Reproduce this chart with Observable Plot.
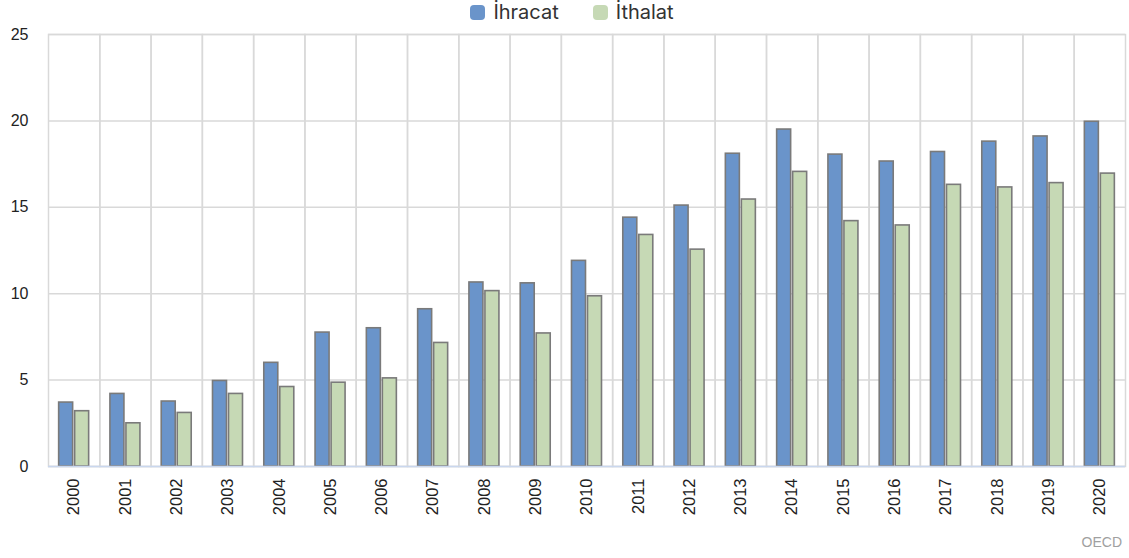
<!DOCTYPE html>
<html>
<head>
<meta charset="utf-8">
<script src="https://cdn.jsdelivr.net/npm/d3@7"></script>
<script src="https://cdn.jsdelivr.net/npm/@observablehq/plot@0.6"></script>
<style>
  body { margin: 0; background: #fff; width: 1129px; height: 558px; overflow: hidden; }
  #legend { height: 24px; display: flex; justify-content: center; align-items: center; gap: 34px;
    font-family: Inter, Roboto, sans-serif; font-size: 20px; color: #333; padding-left: 15px; box-sizing: border-box; }
  #legend .item { display: flex; align-items: center; gap: 8px; }
  #legend .sw { width: 15px; height: 15px; border-radius: 4px; display: inline-block; }
  #caption { text-align: right; padding-right: 7px; font-family: "Liberation Sans", Arial, sans-serif;
    font-size: 14px; color: #a0a0a0; line-height: 16px; }
</style>
</head>
<body>
<div id="legend"></div>
<div id="chart"></div>
<div id="caption">OECD</div>
<script>
const years = ["2000","2001","2002","2003","2004","2005","2006","2007","2008","2009","2010",
  "2011","2012","2013","2014","2015","2016","2017","2018","2019","2020"];
const series = ["İhracat", "İthalat"];
const ihracat = [3.7, 4.2, 3.76, 4.95, 6.0, 7.75, 8.0, 9.1, 10.65, 10.6, 11.9,
  14.4, 15.1, 18.1, 19.5, 18.05, 17.65, 18.2, 18.8, 19.1, 19.95];
const ithalat = [3.2, 2.5, 3.1, 4.2, 4.6, 4.85, 5.1, 7.15, 10.15, 7.7, 9.85,
  13.4, 12.55, 15.45, 17.05, 14.2, 13.95, 16.3, 16.15, 16.4, 16.95];
const yTicks = [0, 5, 10, 15, 20, 25];
const colors = ["#6a94ca", "#c6d9b5"];

const data = [];
years.forEach((yr, i) => {
  data.push({year: yr, series: series[0], value: ihracat[i]});
  data.push({year: yr, series: series[1], value: ithalat[i]});
});

const legend = document.getElementById("legend");
series.forEach((s, i) => {
  const it = document.createElement("span");
  it.className = "item";
  it.innerHTML = `<span class="sw" style="background:${colors[i]}"></span><span>${s}</span>`;
  legend.appendChild(it);
});

const chart = Plot.plot({
  width: 1129,
  height: 510,
  marginLeft: 48,
  marginRight: 4,
  marginTop: 10,
  marginBottom: 68,
  style: { fontFamily: "'Liberation Sans', Arial, sans-serif", fontSize: "16px", color: "#222" },
  fx: { domain: years, padding: 0, round: false, label: null },
  x: { domain: series, axis: null, paddingInner: 0.125, paddingOuter: 0.665, round: false },
  y: { domain: [0, 25], label: null },
  color: { domain: series, range: colors },
  marks: [
    Plot.gridY(yTicks, { stroke: "#d9d9d9", strokeOpacity: 1, strokeWidth: 1.5 }),
    Plot.frame({ stroke: "#d9d9d9", strokeWidth: 1.5 }),
    Plot.barY(data, { fx: "year", x: "series", y: "value", fill: "series", stroke: "#7a7a7a", strokeWidth: 1.6 }),
    Plot.ruleY([0], { stroke: "#c9d7ee", strokeWidth: 1.5 }),
    Plot.axisY(yTicks, { tickSize: 0, tickPadding: 20, fontSize: 16, label: null }),
    Plot.axisFx({ anchor: "bottom", tickRotate: -90, tickSize: 0, tickPadding: 12, fontSize: 16.5, label: null })
  ]
});
document.getElementById("chart").appendChild(chart);
</script>
</body>
</html>
